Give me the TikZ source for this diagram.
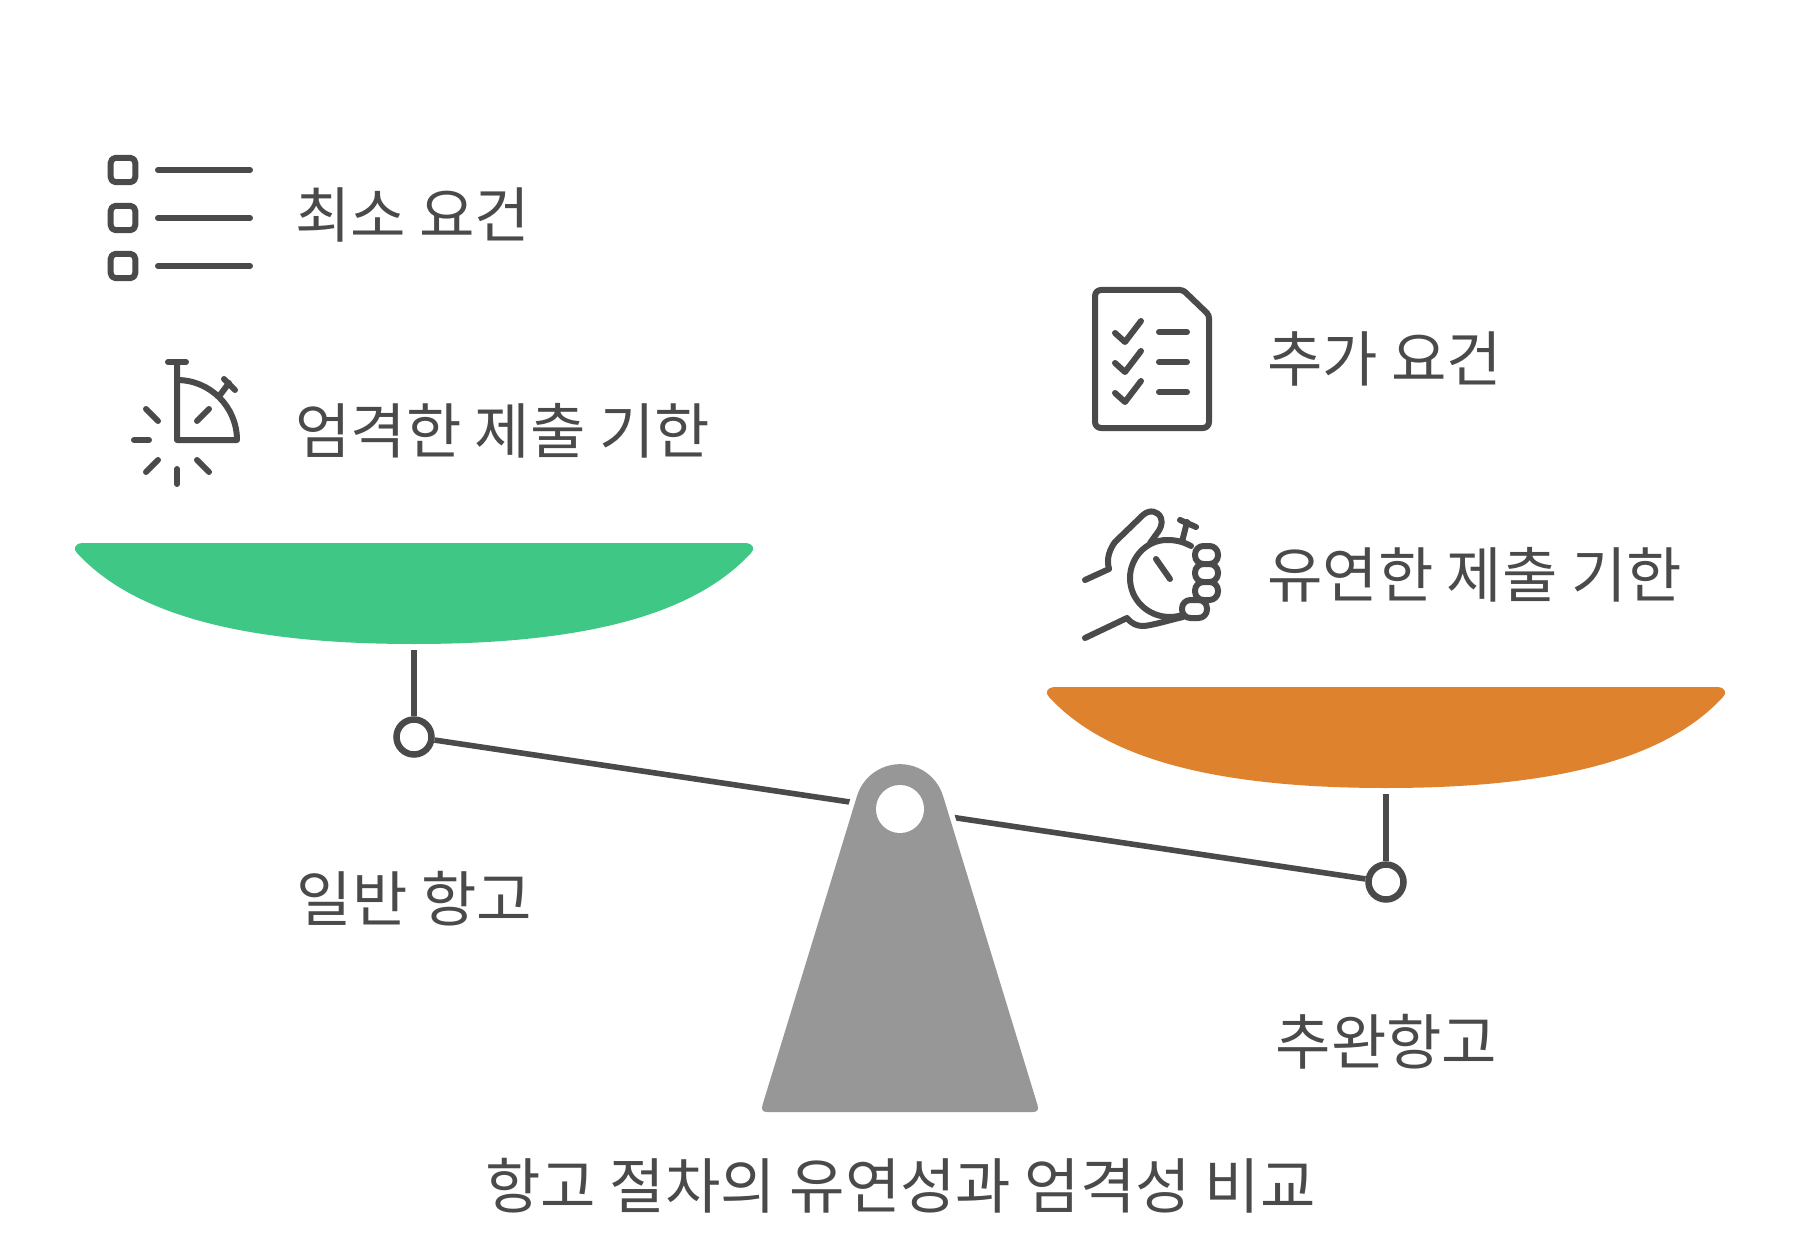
\documentclass[tikz,border=0pt]{standalone}
\usepackage{fontspec}
\setmainfont{Noto Sans CJK KR}
\definecolor{ink}{HTML}{4A4A4A}
\definecolor{basegray}{HTML}{979797}
\definecolor{pangreen}{HTML}{3EC785}
\definecolor{panorange}{HTML}{DE822E}
\tikzset{
  x=1pt,y=-1pt,
  iconline/.style={draw=ink,line width=6pt,line cap=round,line join=round},
  beamline/.style={draw=ink,line width=5.6pt},
  pivot/.style={circle,draw=ink,line width=6.5pt,fill=white,minimum size=35pt,inner sep=0pt},
  label/.style={text=ink,inner sep=0pt,font=\fontsize{60.25}{72}\selectfont},
  pan/.pic={
    \fill[pic actions] (-332,0) -- (332,0) .. controls (338,0) and (342,6) .. (337,10)
      .. controls (280,72) and (170,101) .. (0,101)
      .. controls (-170,101) and (-280,72) .. (-337,10)
      .. controls (-342,6) and (-338,0) .. (-332,0) -- cycle;
  }
}
\begin{document}
\begin{tikzpicture}
\useasboundingbox (0,0) rectangle (1800,1257);
% pans
\pic[fill=pangreen] at (414,543) {pan};
\pic[fill=panorange] at (1386,687) {pan};
% pivots and beam
\coordinate (hl) at (414,650);
\coordinate (hr) at (1386,794);
\node[pivot] (pl) at (414,737) {};
\node[pivot] (pr) at (1386,882) {};
\draw[beamline] (pl) -- (pr);
\draw[beamline] (hl) -- (pl);
\draw[beamline] (hr) -- (pr);
% base
\filldraw[draw=white,fill=white,line width=11pt]
  (857,796) arc[start angle=-163,end angle=-17,radius=45] -- (1038,1112) -- (762,1112) -- cycle;
\fill[basegray] (857,796) arc[start angle=-163,end angle=-17,radius=45]
  -- (1037.5,1105) .. controls (1039,1110) and (1037,1112) .. (1033,1112)
  -- (767,1112) .. controls (763,1112) and (761,1110) .. (762.5,1105) -- cycle;
\fill[white] (900,809) circle[radius=24];
% checklist icon
\foreach \yy in {170,218,266}{
  \draw[iconline,rounded corners=5pt] (110.7,\yy-12.2) rectangle (135.3,\yy+12.2);
  \draw[iconline] (158,\yy) -- (250,\yy);
}
% stopwatch icon
\draw[iconline] (168,362) -- (186,362);
\draw[iconline] (177,362) -- (177,440) -- (237,440) arc[start angle=0,end angle=-90,radius=60];
\draw[iconline] (220,395) -- (229,383);
\draw[iconline] (224,379) -- (235,390);
\draw[iconline] (197,421) -- (209,409);
\draw[iconline] (146,409) -- (158,421);
\draw[iconline] (134,440) -- (149,440);
\draw[iconline] (146,472) -- (158,460);
\draw[iconline] (177,469) -- (177,484);
\draw[iconline] (197,460) -- (209,472);
% document icon
\draw[iconline,rounded corners=6pt] (1095,359) -- (1095,290) [rounded corners=3pt] -- (1183,290) -- (1209,315) [rounded corners=6pt] -- (1209,428) -- (1095,428) -- cycle;
\foreach \yy in {0,30,60}{
  \draw[iconline] (1115,333+\yy) -- (1125,342+\yy) -- (1141,321+\yy);
  \draw[iconline] (1159,332+\yy) -- (1187,332+\yy);
}
% hand icon
\draw[iconline] (1085,580) -- (1109,569) .. controls (1106,558) and (1110,549) .. (1115,542) -- (1143,515)
  .. controls (1150,509) and (1158,511) .. (1161,518) .. controls (1163,524) and (1160,529) .. (1158,532) -- (1150,543);
\draw[iconline] (1191,546) .. controls (1182,541) and (1174,540) .. (1167,540)
  .. controls (1146,540) and (1130,558) .. (1130,578)
  .. controls (1130,600) and (1148,617) .. (1170,617) .. controls (1175,617) and (1180,616) .. (1185,614);
\draw[iconline] (1182,542) -- (1187,522);
\draw[iconline] (1180,520) -- (1196,527);
\draw[iconline] (1156,559) -- (1170,579);
\foreach \yy in {555,573,591}{
  \draw[iconline,rounded corners=8.5pt,fill=white] (1195,\yy-9) rectangle (1218,\yy+9);
}
\draw[iconline,rounded corners=8.5pt,fill=white] (1182,600) rectangle (1207,618);
\draw[iconline] (1085,638) -- (1127,618) .. controls (1132,624) and (1137,626) .. (1143,626) .. controls (1150,626) and (1170,620) .. (1183,617);
% labels
\node[label,anchor=west] (t1) at (295,214.5) {최소 요건};
\node[label,anchor=west] (t2) at (295,431) {엄격한 제출 기한};
\node[label,anchor=west] (t3) at (1267,359) {추가 요건};
\node[label,anchor=west] (t4) at (1267,575) {유연한 제출 기한};
\node[label] (t5) at (414.5,899) {일반 항고};
\node[label] (t6) at (1386.5,1042) {추완항고};
\node[label] (t7) at (900.5,1186) {항고 절차의 유연성과 엄격성 비교};
\end{tikzpicture}
\end{document}
